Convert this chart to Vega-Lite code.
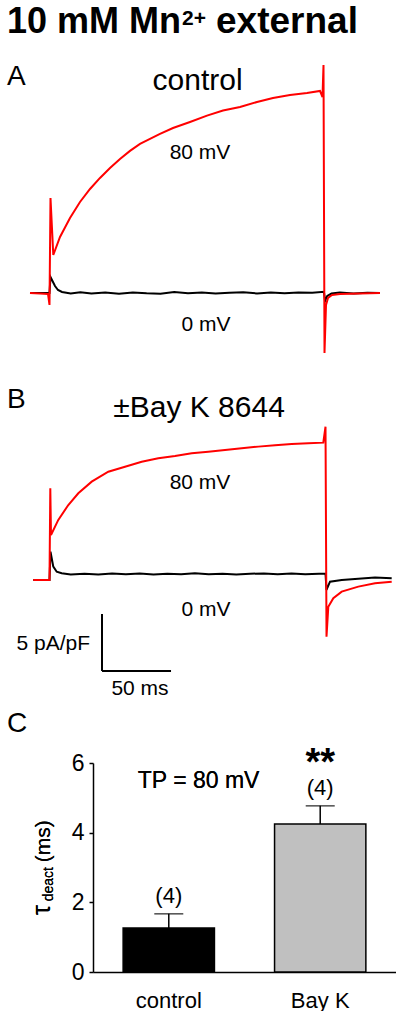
{
  "$schema": "https://vega.github.io/schema/vega-lite/v6.json",
  "autosize": {"type": "pad"},
  "padding": {"left": 7, "top": 0, "right": 0, "bottom": 0},
  "bounds": "flush",
  "spacing": 0,
  "config": {"view": {"stroke": null}, "font": "Liberation Sans", "text": {"color": "black"}},
  "vconcat": [
    {
      "width": 303,
      "height": 365,
      "encoding": {
        "x": {"field": "t", "type": "quantitative", "scale": {"domain": [31.16, 250.72], "nice": false, "zero": false}, "axis": null},
        "y": {"field": "I", "type": "quantitative", "scale": {"domain": [-6.32, 25.7], "nice": false, "zero": false}, "axis": null}
      },
      "layer": [
        {
          "data": {"values": [
            {"t": -14.5, "I": 0}, {"t": -0.36, "I": 0}, {"t": 0.36, "I": 1.4}, {"t": 1.45, "I": 1.14}, {"t": 3.62, "I": 0.61},
            {"t": 5.8, "I": 0.26}, {"t": 8.7, "I": 0.09}, {"t": 15, "I": -0.05}, {"t": 22, "I": 0.06}, {"t": 30, "I": -0.04},
            {"t": 40, "I": 0.03}, {"t": 50, "I": -0.06}, {"t": 60, "I": 0.05}, {"t": 70, "I": -0.03}, {"t": 80, "I": -0.07},
            {"t": 90, "I": 0.08}, {"t": 100, "I": -0.02}, {"t": 110, "I": 0.04}, {"t": 120, "I": -0.05}, {"t": 130, "I": 0.02},
            {"t": 140, "I": 0.06}, {"t": 150, "I": -0.04}, {"t": 160, "I": 0.03}, {"t": 170, "I": -0.02}, {"t": 180, "I": 0.05},
            {"t": 190, "I": 0.02}, {"t": 198.5, "I": 0.1}, {"t": 199.3, "I": -0.7}, {"t": 200.9, "I": -0.26}, {"t": 204, "I": -0.05},
            {"t": 210, "I": 0.03}, {"t": 220, "I": -0.04}, {"t": 230, "I": 0.02}, {"t": 239.1, "I": 0}
          ]},
          "mark": {"type": "line", "color": "#000000", "strokeWidth": 2, "clip": false}
        },
        {
          "data": {"values": [
            {"t": -14.5, "I": 0}, {"t": -7.2, "I": -0.04}, {"t": -1.45, "I": -0.09}, {"t": -0.36, "I": -1.05}, {"t": 0.36, "I": 8.33},
            {"t": 2.39, "I": 3.33}, {"t": 7.25, "I": 4.91}, {"t": 14.49, "I": 6.58}, {"t": 21.74, "I": 7.98}, {"t": 28.99, "I": 9.12},
            {"t": 36.23, "I": 10.09}, {"t": 43.48, "I": 10.96}, {"t": 50.72, "I": 11.75}, {"t": 57.97, "I": 12.46}, {"t": 65.22, "I": 13.07},
            {"t": 72.46, "I": 13.51}, {"t": 79.71, "I": 13.95}, {"t": 89.13, "I": 14.47}, {"t": 101.45, "I": 15.0}, {"t": 113.77, "I": 15.56},
            {"t": 125.36, "I": 16.0}, {"t": 137.68, "I": 16.32}, {"t": 150.0, "I": 16.75}, {"t": 161.59, "I": 17.11}, {"t": 173.91, "I": 17.37},
            {"t": 186.23, "I": 17.54}, {"t": 195.65, "I": 17.72}, {"t": 197.46, "I": 17.19}, {"t": 198.19, "I": 20.0}, {"t": 198.91, "I": -5.26},
            {"t": 200, "I": -1.05}, {"t": 201.45, "I": -0.44}, {"t": 204.35, "I": -0.18}, {"t": 210.14, "I": -0.09}, {"t": 224.6, "I": -0.04},
            {"t": 239.1, "I": 0}
          ]},
          "mark": {"type": "line", "color": "#ff0000", "strokeWidth": 2, "clip": false}
        },
        {
          "data": {"values": [{"label": "10 mM Mn", "t": -31.15, "I": 22.81}]},
          "mark": {"type": "text", "fontSize": 36, "fontWeight": "bold", "align": "left", "baseline": "alphabetic"},
          "encoding": {"text": {"field": "label"}}
        },
        {
          "data": {"values": [{"label": "2+", "t": 95.7, "I": 23.51}]},
          "mark": {"type": "text", "fontSize": 21, "fontWeight": "bold", "align": "left", "baseline": "alphabetic"},
          "encoding": {"text": {"field": "label"}}
        },
        {
          "data": {"values": [{"label": "external", "t": 120.3, "I": 22.81}]},
          "mark": {"type": "text", "fontSize": 37, "fontWeight": "bold", "align": "left", "baseline": "alphabetic"},
          "encoding": {"text": {"field": "label"}}
        },
        {
          "data": {"values": [{"label": "A", "t": -31.15, "I": 18.25}]},
          "mark": {"type": "text", "fontSize": 28, "align": "left", "baseline": "alphabetic"},
          "encoding": {"text": {"field": "label"}}
        },
        {
          "data": {"values": [{"label": "control", "t": 106.9, "I": 17.81}]},
          "mark": {"type": "text", "fontSize": 30, "align": "center", "baseline": "alphabetic"},
          "encoding": {"text": {"field": "label"}}
        },
        {
          "data": {"values": [{"label": "80 mV", "t": 108.7, "I": 11.75}, {"label": "0 mV", "t": 113.0, "I": -3.33}]},
          "mark": {"type": "text", "fontSize": 21, "align": "center", "baseline": "alphabetic"},
          "encoding": {"text": {"field": "label"}}
        }
      ]
    },
    {
      "width": 303,
      "height": 398,
      "encoding": {
        "x": {"field": "t", "type": "quantitative", "scale": {"domain": [31.16, 250.72], "nice": false, "zero": false}, "axis": null},
        "y": {"field": "I", "type": "quantitative", "scale": {"domain": [-16.58, 18.33], "nice": false, "zero": false}, "axis": null}
      },
      "layer": [
        {
          "data": {"values": [
            {"t": -12.1, "I": -0.53}, {"t": -0.36, "I": -0.53}, {"t": 0.36, "I": 1.96}, {"t": 2.39, "I": 0.64}, {"t": 4.86, "I": 0.2},
            {"t": 8.48, "I": 0.06}, {"t": 15, "I": -0.04}, {"t": 25, "I": 0.03}, {"t": 35, "I": -0.05}, {"t": 45, "I": 0.04},
            {"t": 55, "I": -0.02}, {"t": 65, "I": 0.05}, {"t": 75, "I": -0.04}, {"t": 85, "I": 0.02}, {"t": 95, "I": -0.03},
            {"t": 105, "I": 0.06}, {"t": 115, "I": -0.02}, {"t": 125, "I": 0.03}, {"t": 135, "I": -0.05}, {"t": 145, "I": 0.02},
            {"t": 155, "I": 0.05}, {"t": 165, "I": -0.03}, {"t": 175, "I": 0.04}, {"t": 185, "I": -0.02}, {"t": 195, "I": 0.03},
            {"t": 199.64, "I": 0.02}, {"t": 200.36, "I": -1.4}, {"t": 202.9, "I": -0.68}, {"t": 211.4, "I": -0.53}, {"t": 223.4, "I": -0.41},
            {"t": 235.5, "I": -0.32}, {"t": 247.6, "I": -0.38}
          ]},
          "mark": {"type": "line", "color": "#000000", "strokeWidth": 2, "clip": false}
        },
        {
          "data": {"values": [
            {"t": -12.1, "I": -0.53}, {"t": -7.25, "I": -0.53}, {"t": -0.36, "I": -0.53}, {"t": 0.22, "I": 7.52}, {"t": 0.72, "I": 3.42},
            {"t": 6.01, "I": 4.74}, {"t": 13.26, "I": 6.05}, {"t": 20.51, "I": 7.08}, {"t": 30.22, "I": 8.1}, {"t": 42.25, "I": 8.97},
            {"t": 54.35, "I": 9.41}, {"t": 66.45, "I": 9.85}, {"t": 78.48, "I": 10.15}, {"t": 90.58, "I": 10.35}, {"t": 102.68, "I": 10.59},
            {"t": 114.71, "I": 10.73}, {"t": 126.81, "I": 10.88}, {"t": 138.91, "I": 11.03}, {"t": 150.94, "I": 11.17}, {"t": 163.04, "I": 11.29},
            {"t": 175.14, "I": 11.4}, {"t": 187.17, "I": 11.46}, {"t": 198.04, "I": 11.52}, {"t": 199.64, "I": 12.92}, {"t": 200.36, "I": -5.5},
            {"t": 201.67, "I": -2.87}, {"t": 205.29, "I": -2.13}, {"t": 211.38, "I": -1.55}, {"t": 223.41, "I": -1.11}, {"t": 235.51, "I": -0.82},
            {"t": 247.61, "I": -0.68}
          ]},
          "mark": {"type": "line", "color": "#ff0000", "strokeWidth": 2, "clip": false}
        },
        {
          "data": {"values": [
            {"t": 37.7, "t2": 37.7, "I": -3.51, "I2": -8.51},
            {"t": 37.7, "t2": 87.7, "I": -8.51, "I2": -8.51}
          ]},
          "mark": {"type": "rule", "color": "#000000", "strokeWidth": 2, "clip": false},
          "encoding": {"x2": {"field": "t2"}, "y2": {"field": "I2"}}
        },
        {
          "data": {"values": [{"label": "B", "t": -31.15, "I": 14.56}, {"label": "C", "t": -31.15, "I": -13.86}]},
          "mark": {"type": "text", "fontSize": 28, "align": "left", "baseline": "alphabetic"},
          "encoding": {"text": {"field": "label"}}
        },
        {
          "data": {"values": [{"label": "±Bay K 8644", "t": 108.0, "I": 13.77}]},
          "mark": {"type": "text", "fontSize": 30, "align": "center", "baseline": "alphabetic"},
          "encoding": {"text": {"field": "label"}}
        },
        {
          "data": {"values": [{"label": "80 mV", "t": 108.7, "I": 7.46}, {"label": "0 mV", "t": 113.0, "I": -3.68}, {"label": "50 ms", "t": 65.2, "I": -10.61}]},
          "mark": {"type": "text", "fontSize": 21, "align": "center", "baseline": "alphabetic"},
          "encoding": {"text": {"field": "label"}}
        },
        {
          "data": {"values": [{"label": "5 pA/pF", "t": 29.0, "I": -6.67}]},
          "mark": {"type": "text", "fontSize": 21, "align": "right", "baseline": "alphabetic"},
          "encoding": {"text": {"field": "label"}}
        }
      ]
    },
    {
      "width": 303,
      "height": 209,
      "data": {"values": [
        {"cond": "control", "tau": 1.26, "upper": 1.67, "n": "(4)", "sig": ""},
        {"cond": "Bay K", "tau": 4.25, "upper": 4.77, "n": "(4)", "sig": "**"}
      ]},
      "encoding": {
        "x": {
          "field": "cond", "type": "nominal", "sort": ["control", "Bay K"],
          "scale": {"paddingInner": 0.397, "paddingOuter": 0.199},
          "axis": {"title": null, "ticks": false, "labelFontSize": 22, "labelPadding": 18, "labelAngle": 0, "domainColor": "#000000", "domainWidth": 1.5, "labelColor": "#000000"}
        }
      },
      "layer": [
        {
          "mark": {"type": "rule", "color": "#000000", "strokeWidth": 1.5},
          "encoding": {
            "y": {"field": "tau", "type": "quantitative", "scale": {"domain": [0, 6], "nice": false},
              "axis": {"title": null, "values": [0, 1, 2, 3, 4, 5, 6], "labelExpr": "datum.value % 2 === 0 ? datum.label : ''", "tickSize": 4, "tickColor": "#000000", "tickWidth": 1.5, "labelFontSize": 23, "labelPadding": 5, "labelColor": "#000000", "domainColor": "#000000", "domainWidth": 1.5, "grid": false}},
            "y2": {"field": "upper"}
          }
        },
        {
          "mark": {"type": "tick", "color": "#000000", "thickness": 1.5},
          "encoding": {"y": {"field": "upper", "type": "quantitative"}, "size": {"value": 29}}
        },
        {
          "mark": {"type": "bar", "stroke": "#000000", "strokeWidth": 1.5},
          "encoding": {
            "y": {"field": "tau", "type": "quantitative"},
            "color": {"field": "cond", "type": "nominal", "scale": {"domain": ["control", "Bay K"], "range": ["#000000", "#c0c0c0"]}, "legend": null}
          }
        },
        {
          "mark": {"type": "text", "fontSize": 22, "baseline": "alphabetic", "dy": -11},
          "encoding": {"y": {"field": "upper", "type": "quantitative"}, "text": {"field": "n"}}
        },
        {
          "mark": {"type": "text", "fontSize": 38, "fontWeight": "bold", "baseline": "alphabetic", "dy": -31},
          "encoding": {"y": {"field": "upper", "type": "quantitative"}, "text": {"field": "sig"}}
        },
        {
          "mark": {"type": "text", "text": "TP = 80 mV", "fontSize": 23, "align": "left", "baseline": "alphabetic", "dx": -31},
          "encoding": {"x": {"datum": "control"}, "y": {"datum": 5.29}}
        },
        {
          "mark": {"type": "text", "text": "τ", "fontSize": 25, "align": "center", "baseline": "middle", "angle": 270, "dy": -127},
          "encoding": {"x": {"datum": "control"}, "y": {"datum": 1.78}}
        },
        {
          "mark": {"type": "text", "text": "deact", "fontSize": 14, "align": "center", "baseline": "middle", "angle": 270, "dy": -120},
          "encoding": {"x": {"datum": "control"}, "y": {"datum": 2.52}}
        },
        {
          "mark": {"type": "text", "text": "(ms)", "fontSize": 21, "align": "center", "baseline": "middle", "angle": 270, "dy": -125},
          "encoding": {"x": {"datum": "control"}, "y": {"datum": 3.75}}
        }
      ]
    }
  ]
}
